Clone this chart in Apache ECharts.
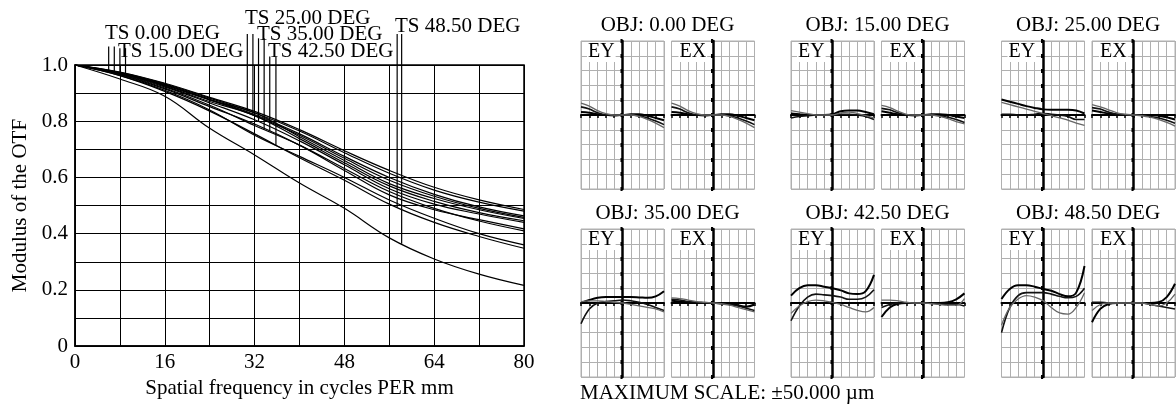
<!DOCTYPE html>
<html>
<head>
<meta charset="utf-8">
<script src="https://cdn.jsdelivr.net/npm/echarts@6/dist/echarts.min.js"></script>
<style>
  html, body { margin: 0; padding: 0; background: #fff; }
  #chart { width: 1176px; height: 404px; }
</style>
</head>
<body>
<div id="chart"></div>
<script>
// ---- MTF (left) ----
const freq = [0, 8, 16, 24, 32, 40, 48, 56, 64, 72, 80];
const mtf00T = [1, 0.975, 0.935, 0.885, 0.835, 0.77, 0.695, 0.625, 0.565, 0.52, 0.486];
const mtf00S = [1, 0.974, 0.933, 0.882, 0.83, 0.765, 0.688, 0.615, 0.555, 0.512, 0.48];
const mtf15T = [1, 0.972, 0.93, 0.878, 0.824, 0.755, 0.675, 0.6, 0.54, 0.495, 0.463];
const mtf15S = [1, 0.972, 0.929, 0.876, 0.82, 0.75, 0.668, 0.59, 0.533, 0.49, 0.458];
const mtf25T = [1, 0.971, 0.927, 0.876, 0.83, 0.745, 0.66, 0.578, 0.525, 0.485, 0.454];
const mtf25S = [1, 0.97, 0.925, 0.87, 0.82, 0.738, 0.652, 0.57, 0.515, 0.475, 0.446];
const mtf35T = [1, 0.969, 0.922, 0.865, 0.805, 0.73, 0.645, 0.56, 0.505, 0.47, 0.44];
const mtf35S = [1, 0.967, 0.918, 0.857, 0.785, 0.715, 0.632, 0.55, 0.49, 0.445, 0.41];
const mtf42T = [1, 0.966, 0.915, 0.852, 0.79, 0.715, 0.625, 0.538, 0.485, 0.45, 0.417];
const mtf42S = [1, 0.963, 0.91, 0.84, 0.75, 0.675, 0.6, 0.52, 0.455, 0.4, 0.36];
const mtf48S = [1, 0.962, 0.906, 0.836, 0.755, 0.67, 0.59, 0.505, 0.44, 0.39, 0.348];
const mtf48T = [1, 0.95, 0.889, 0.775, 0.68, 0.58, 0.49, 0.385, 0.31, 0.256, 0.216];

const fieldLabels = ["TS 0.00 DEG", "TS 15.00 DEG", "TS 25.00 DEG", "TS 35.00 DEG", "TS 42.50 DEG", "TS 48.50 DEG"];
const leaderX = [[6, 7], [8, 9], [30.7, 31.7], [32.7, 33.7], [34.7, 35.8], [57.4, 58.2]];
const leaderTop = [1.066, 1.06, 1.11, 1.095, 1.03, 1.11];

// ---- ray fans (right), pupil -1..1, error in µm ----
const pupil = [-1, -0.8, -0.6, -0.4, -0.2, 0, 0.2, 0.4, 0.6, 0.8, 1];
const fanTitles = ["OBJ: 0.00 DEG", "OBJ: 15.00 DEG", "OBJ: 25.00 DEG", "OBJ: 35.00 DEG", "OBJ: 42.50 DEG", "OBJ: 48.50 DEG"];

const ey00 = [[2, 1.5, 0.5, 0, 0, 0, 0.5, 0.5, -0.5, -2, -3.5], [5.5, 4, 1.5, 0, -0.5, 0, 0, -0.5, -2, -4, -6.5], [8, 6, 3, 1, 0, 0, 0, -1, -3, -5.5, -8.5]];
const ex00 = [[2, 1.5, 0.5, 0, 0, 0, 0.5, 0.5, -0.5, -2, -3.5], [5.5, 4, 1.5, 0, -0.5, 0, 0, -0.5, -2, -4, -6.5], [8, 6, 3, 1, 0, 0, 0, -1, -3, -5.5, -8.5]];
const ey15 = [[1, 0.5, 0, 0, 0, 0.5, 2.5, 3, 3, 2, 0.5], [-2, -1, -0.5, 0, 0, 0, 0.5, 0.5, 0, -1, -3], [3, 2, 1, 0, 0, 0, 1.5, 2, 1, -0.5, -2]];
const ex15 = [[2.5, 1.5, 0.5, 0, 0, 0, 0.5, 0.5, 0, -1, -2], [4.5, 3.5, 1.5, 0, -0.5, 0, 0, -0.5, -1.5, -3, -5], [6.5, 5, 2.5, 0.5, 0, 0, 0, -1, -2.5, -4.5, -6]];
const ey25 = [[10.5, 9, 7.5, 6, 4.8, 3.8, 3.5, 3.5, 3.5, 3, 1], [0.5, 0.5, 0, 0, 0.5, 1, 0.5, 0, -1, -3, -3], [8.5, 7, 5.5, 4, 2.5, 1, -0.5, -2, -3.5, -5.5, -7]];
const ex25 = [[3, 2, 1, 0.5, 0, 0, 0, 0, -0.5, -1.5, -3], [5, 4, 2, 0.5, 0, 0, 0, -1, -2, -3.5, -5.5], [7, 5.5, 3.5, 1.5, 0.5, 0, -0.5, -1.5, -3, -5, -7.5]];
const ey35 = [[0, 2, 3.5, 4, 4, 4, 4, 3.8, 3.5, 4.5, 8], [-14, -4, 0, 1, 1.5, 2, 1.5, 0.5, -1, -3, -5], [1, 1.5, 1.5, 1, 0.5, 0, -1, -2, -3, -4, -6]];
const ex35 = [[1.5, 1, 0.5, 0, 0, 0, 0, -0.5, -1.5, -2.5, -1], [2.5, 2, 1, 0.5, 0, 0, -0.5, -1, -2, -3.5, -5], [3.5, 3, 2, 1, 0.5, 0, -0.5, -1.5, -3, -4.5, -6]];
const ey42 = [[5, 10, 12, 12, 11, 10, 8.5, 6.5, 6, 8, 19], [-12, -2, 4, 6, 5.5, 5, 4, 2.5, 2.5, 4, 9], [-7, -2, 1, 2, 1.5, 0.5, -1, -3, -5, -6, -3]];
const ex42 = [[-9.5, -3, -0.5, 0, 0, 0, 0, 0, 0.5, 2.5, 6.5], [-3, -1, 0, 0, 0, 0, 0, -0.5, -1, -1, -2], [2, 2, 1.5, 0.5, 0, 0, -0.5, -1, -1.5, -1.5, 3]];
const ey48 = [[2.7, 9.5, 12, 12, 11, 9.5, 8.3, 6, 4.5, 7, 25], [-20, -3, 5, 7, 7, 7, 6, 4.5, 3.5, 4.5, 10], [-15, -3, 2.7, 5, 4, 1.6, -3, -6.7, -7.5, -3, 7]];
const ex48 = [[-13, -4, -0.7, 0, 0, 0, 0, 0, 0.5, 4, 13], [0.5, 0.5, 0, 0, 0, 0, 0, -1, -2, -3, -4], [-5, -1, 0, 0, 0, 0, 0, -1, -2, 0, 6]];

const fanEY = [ey00, ey15, ey25, ey35, ey42, ey48];
const fanEX = [ex00, ex15, ex25, ex35, ex42, ex48];

const serif = "Liberation Serif";
const mtfCurves = [mtf00T, mtf00S, mtf15T, mtf15S, mtf25T, mtf25S, mtf35T, mtf35S, mtf42T, mtf42S, mtf48S, mtf48T];

function interp(ys, x) {
  for (let i = 0; i < freq.length - 1; i++) {
    if (x >= freq[i] && x <= freq[i + 1]) {
      const t = (x - freq[i]) / (freq[i + 1] - freq[i]);
      return ys[i] + t * (ys[i + 1] - ys[i]);
    }
  }
  return ys[ys.length - 1];
}

const grids = [{ left: 75, top: 65, width: 449, height: 290, show: true, borderColor: "#000", borderWidth: 1.5 }];
const xAxes = [{
  gridIndex: 0, type: "value", min: 0, max: 80, interval: 8,
  name: "Spatial frequency in cycles PER mm", nameLocation: "middle", nameGap: 29,
  nameTextStyle: { fontFamily: serif, fontSize: 21, color: "#000" },
  axisLine: { lineStyle: { color: "#000", width: 1.5 } },
  axisTick: { inside: true, length: 5, lineStyle: { color: "#000" } },
  axisLabel: { margin: 6, fontFamily: serif, fontSize: 21, color: "#000",
    formatter: (v) => (v % 16 === 0 ? String(v) : "") },
  splitLine: { lineStyle: { color: "#000", width: 1 } }
}];
const yAxes = [{
  gridIndex: 0, type: "value", min: 0, max: 1, interval: 0.1,
  name: "Modulus of the OTF", nameLocation: "middle", nameGap: 44,
  nameTextStyle: { fontFamily: serif, fontSize: 21, color: "#000" },
  axisLine: { lineStyle: { color: "#000", width: 1.5 } },
  axisTick: { inside: true, length: 5, lineStyle: { color: "#000" } },
  axisLabel: { margin: 7, fontFamily: serif, fontSize: 21, color: "#000",
    formatter: (v) => {
      const k = Math.round(v * 10);
      if (k === 0) return "0";
      return k % 2 === 0 ? (k / 10).toFixed(1) : "";
    } },
  splitLine: { lineStyle: { color: "#000", width: 1 } }
}];

const series = [];
mtfCurves.forEach((c) => {
  series.push({
    type: "line", xAxisIndex: 0, yAxisIndex: 0, smooth: 0.4, symbol: "none",
    data: freq.map((f, i) => [f, c[i]]),
    lineStyle: { color: "#000", width: 1.2 }
  });
});
// leader lines from labels down to their curves
leaderX.forEach((pair, k) => {
  pair.forEach((x, j) => {
    const curve = mtfCurves[2 * k + j];
    series.push({
      type: "line", xAxisIndex: 0, yAxisIndex: 0, symbol: "none", clip: false,
      data: [[x, leaderTop[k]], [x, interp(curve, x)]],
      lineStyle: { color: "#000", width: 1.2 }
    });
  });
});

// fan panels
const panelLeft = [581, 791, 1001.5];
const panelTop = [41, 229];
const fanColors = ["#000", "#111", "#666"];
const fanWidths = [2, 1.6, 1.3];
const graphics = [];

for (let f = 0; f < 6; f++) {
  const r = Math.floor(f / 3), c = f % 3;
  [fanEY[f], fanEX[f]].forEach((curves, e) => {
    const idx = grids.length;
    const left = panelLeft[c] + e * 90.5;
    grids.push({ left: left, top: panelTop[r], width: 83, height: 148, show: true, borderColor: "#b0b0b0", borderWidth: 1 });
    xAxes.push({
      gridIndex: idx, type: "value", min: -1, max: 1, interval: 0.2,
      axisLine: { onZero: true, lineStyle: { color: "#000", width: 2 } },
      axisTick: { length: 3, lineStyle: { color: "#000", width: 1.5 } },
      axisLabel: { show: false },
      splitLine: { lineStyle: { color: "#b0b0b0", width: 1 } }
    });
    yAxes.push({
      gridIndex: idx, type: "value", min: -50, max: 50, interval: 10,
      axisLine: { onZero: true, lineStyle: { color: "#000", width: 2.5 } },
      axisTick: { length: 2, lineStyle: { color: "#000", width: 4 } },
      axisLabel: { show: false },
      splitLine: { lineStyle: { color: "#b0b0b0", width: 1 } }
    });
    curves.forEach((cv, k) => {
      series.push({
        type: "line", xAxisIndex: idx, yAxisIndex: idx, smooth: 0.4, symbol: "none",
        data: pupil.map((p, i) => [p, cv[i]]),
        lineStyle: { color: fanColors[k], width: fanWidths[k] }
      });
    });
    graphics.push({
      type: "text", x: left + (e ? 7 : 6), y: panelTop[r] + 11, z: 10,
      style: { text: e ? "EX" : "EY", font: "20px " + serif, fill: "#000", verticalAlign: "middle",
        backgroundColor: "#fff", padding: [0, 1] }
    });
  });
  graphics.push({
    type: "text", x: panelLeft[c] + 86.5, y: panelTop[r] - 16,
    style: { text: fanTitles[f], font: "21px " + serif, fill: "#000", align: "center", verticalAlign: "middle" }
  });
}

const labelPos = [[105, 33], [118, 51], [245, 18], [257, 34], [268, 51], [395, 26]];
fieldLabels.forEach((t, k) => {
  graphics.push({
    type: "text", x: labelPos[k][0], y: labelPos[k][1],
    style: { text: t, font: "21px " + serif, fill: "#000", align: "left", verticalAlign: "middle" }
  });
});
graphics.push({
  type: "text", x: 580, y: 393,
  style: { text: "MAXIMUM SCALE: \u00b150.000 \u00b5m", font: "21px " + serif, fill: "#000", align: "left", verticalAlign: "middle" }
});

const option = {
  animation: false,
  backgroundColor: "#fff",
  grid: grids,
  xAxis: xAxes,
  yAxis: yAxes,
  series: series,
  graphic: graphics
};
echarts.init(document.getElementById("chart")).setOption(option);
</script>
</body>
</html>
